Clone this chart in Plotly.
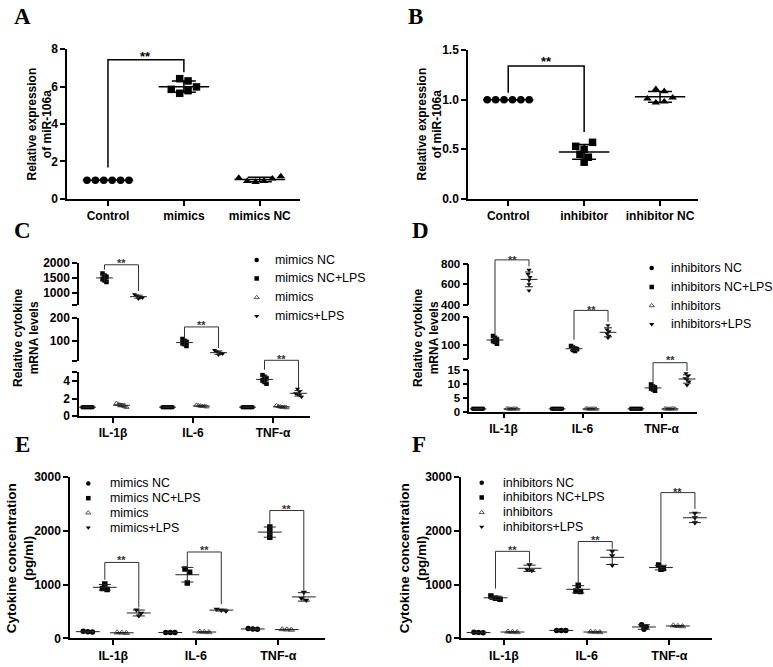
import numpy as np
import plotly.graph_objects as go

W, H = 773, 667
SANS = "Liberation Sans, Arial, sans-serif"
SERIF = "Liberation Serif, Times New Roman, serif"

# ---------------- data ----------------
A_groups = ["Control", "mimics", "mimics NC"]
A_control = [1.0, 1.0, 1.0, 1.0, 1.0, 1.0]
A_mimics = [6.42, 6.30, 5.85, 5.64, 5.78, 5.98]
A_mimics_nc = [1.12, 0.95, 0.90, 0.95, 1.08, 1.20]

B_groups = ["Control", "inhibitor", "inhibitor NC"]
B_control = [1.0, 1.0, 1.0, 1.0, 1.0, 1.0]
B_inhibitor = [0.53, 0.50, 0.57, 0.45, 0.42, 0.37]
B_inhibitor_nc = [1.105, 1.085, 1.01, 0.97, 0.98, 1.02]

cytokines = ["IL-1β", "IL-6", "TNF-α"]

C_series = ["mimics NC", "mimics NC+LPS", "mimics", "mimics+LPS"]
C_mimics_nc = [[1.0] * 6, [1.0] * 6, [1.0] * 6]
C_mimics_nc_lps = [[1640, 1580, 1520, 1470, 1410, 1360],
                   [108, 100, 95, 90, 85, 78],
                   [4.7, 4.5, 4.3, 4.1, 3.9, 3.7]]
C_mimics = [[1.45, 1.35, 1.25, 1.2, 1.1, 1.0],
            [1.25, 1.2, 1.15, 1.1, 1.1, 1.05],
            [1.2, 1.1, 1.05, 1.0, 1.0, 0.95]]
C_mimics_lps = [[960, 920, 890, 870, 850, 820],
                [60, 55, 50, 47, 44, 40],
                [3.1, 2.8, 2.6, 2.5, 2.4, 2.2]]

D_series = ["inhibitors NC", "inhibitors NC+LPS", "inhibitors", "inhibitors+LPS"]
D_inh_nc = [[1.0] * 6, [1.0] * 6, [1.0] * 6]
D_inh_nc_lps = [[132, 125, 118, 114, 110, 104],
                [96, 90, 86, 84, 81, 78],
                [9.8, 9.0, 8.6, 8.3, 8.0, 7.5]]
D_inh = [[1.1, 1.0, 0.9, 1.0, 1.05, 0.95],
         [1.1, 1.0, 0.95, 1.0, 1.05, 0.9],
         [1.05, 1.0, 0.9, 1.0, 1.1, 0.95]]
D_inh_lps = [[740, 700, 670, 640, 600, 540],
             [170, 155, 148, 140, 132, 125],
             [13.8, 12.8, 12.0, 11.5, 10.8, 9.5]]

E_series = ["mimics NC", "mimics NC+LPS", "mimics", "mimics+LPS"]
E_mimics_nc = [[135, 125, 120], [110, 110, 110], [185, 175, 170]]
E_mimics_nc_lps = [[1010, 930, 910], [1290, 1230, 1030], [2070, 1975, 1880]]
E_mimics = [[110, 105, 100], [125, 120, 115], [170, 165, 160]]
E_mimics_lps = [[530, 470, 420], [545, 525, 510], [860, 745, 710]]

F_series = ["inhibitors NC", "inhibitors NC+LPS", "inhibitors", "inhibitors+LPS"]
F_inh_nc = [[115, 110, 105], [150, 150, 150], [255, 215, 170]]
F_inh_nc_lps = [[790, 745, 730], [990, 880, 870], [1365, 1300, 1285]]
F_inh = [[125, 120, 115], [125, 120, 115], [240, 230, 225]]
F_inh_lps = [[1370, 1280, 1260], [1620, 1540, 1360], [2330, 2245, 2150]]

# ---------------- layout helpers ----------------
fig = go.Figure()
layout = dict(width=W, height=H, autosize=False, margin=dict(l=0, r=0, t=0, b=0),
              paper_bgcolor="white", plot_bgcolor="rgba(0,0,0,0)", showlegend=False)
shapes, annots = [], []
counter = {"x": 0, "y": 0}


def fx(px):
    return px / W


def fy(py):
    return 1 - py / H


def new_id(kind):
    counter[kind] += 1
    n = counter[kind]
    return "" if n == 1 else str(n)


def make_panel(xpx, xr, segs, xlabels, xfont, yfont):
    xi = new_id("x")
    yids = [new_id("y") for _ in segs]
    layout["xaxis" + xi] = dict(
        domain=[fx(xpx[0]), fx(xpx[1])], range=list(xr), anchor="y" + yids[-1],
        showline=True, linecolor="black", linewidth=1.5, ticks="outside", ticklen=5,
        tickwidth=1.5, tickcolor="black", tickvals=list(range(len(xlabels))), ticktext=xlabels,
        tickfont=dict(family=SANS, size=xfont, color="black", weight="bold"),
        showgrid=False, zeroline=False, fixedrange=True)
    for s, yi in zip(segs, yids):
        layout["yaxis" + yi] = dict(
            domain=[fy(s["bot"]), fy(s["top"])], range=list(s["range"]), anchor="x" + xi,
            showline=True, linecolor="black", linewidth=1.5, ticks="outside", ticklen=5,
            tickwidth=1.5, tickcolor="black", tickvals=s["tickvals"], ticktext=s["ticktext"],
            tickfont=dict(family=SANS, size=yfont, color="black", weight="bold"),
            showgrid=False, zeroline=False, fixedrange=True)
    return dict(x="x" + xi, ys=["y" + y for y in yids], xpx=xpx, xr=xr, segs=segs)


def xpix(P, pos):
    return P["xpx"][0] + (pos - P["xr"][0]) / (P["xr"][1] - P["xr"][0]) * (P["xpx"][1] - P["xpx"][0])


def ypix(P, seg, val):
    s = P["segs"][seg]
    lo, hi = s["range"]
    return s["bot"] - (val - lo) / (hi - lo) * (s["bot"] - s["top"])


def xppu(P):
    return (P["xpx"][1] - P["xpx"][0]) / (P["xr"][1] - P["xr"][0])


def yppu(P, seg):
    s = P["segs"][seg]
    return (s["bot"] - s["top"]) / (s["range"][1] - s["range"][0])


def seg_of(P, val):
    for i, s in enumerate(P["segs"]):
        if s["range"][0] <= val <= s["range"][1]:
            return i
    return len(P["segs"]) - 1


def swarm(vals, ppu_y, d, ppu_x, binpx):
    vals = np.asarray(vals, float)
    order = np.argsort(-vals, kind="stable")
    bins, cur, start = [], [], None
    for i in order:
        if cur and (start - vals[i]) * ppu_y <= binpx:
            cur.append(i)
        else:
            if cur:
                bins.append(cur)
            cur, start = [i], vals[i]
    bins.append(cur)
    off = np.zeros(len(vals))
    for b in bins:
        b = sorted(b)
        n = len(b)
        for k, i in enumerate(b):
            off[i] = (k - (n - 1) / 2) * d / ppu_x
    return off


def plot_group(P, pos, vals, st, msize, d, binpx, meanw, capw, lw, lcolor):
    vals = np.asarray(vals, float)
    m = vals.mean()
    sd = vals.std(ddof=1)
    seg = seg_of(P, m)
    off = swarm(vals, yppu(P, seg), d, xppu(P), binpx)
    fig.add_trace(go.Scatter(
        x=pos + off, y=vals, xaxis=P["x"], yaxis=P["ys"][seg], mode="markers",
        marker=dict(symbol=st["symbol"], size=msize, color=st["color"],
                    line=dict(width=st.get("lw", 0), color=st["color"])),
        hoverinfo="skip", showlegend=False))
    fig.add_trace(go.Scatter(
        x=[pos], y=[m], xaxis=P["x"], yaxis=P["ys"][seg], mode="markers",
        marker=dict(symbol="line-ew", size=meanw, color=lcolor, line=dict(width=lw, color=lcolor)),
        error_y=dict(type="data", array=[sd], visible=True, width=capw, thickness=lw, color=lcolor),
        hoverinfo="skip", showlegend=False))


def bracket(P, xl, xr_, yl, yt, yr, ys, lw, color, fsize):
    pl = ypix(P, *yl)
    pt = ypix(P, *yt)
    pr = ypix(P, *yr)
    xa, xb = xpix(P, xl), xpix(P, xr_)
    path = "M {:.5f},{:.5f} L {:.5f},{:.5f} L {:.5f},{:.5f} L {:.5f},{:.5f}".format(
        fx(xa), fy(pl), fx(xa), fy(pt), fx(xb), fy(pt), fx(xb), fy(pr))
    shapes.append(dict(type="path", path=path, xref="paper", yref="paper",
                       line=dict(color=color, width=lw)))
    annots.append(dict(x=fx((xa + xb) / 2), y=fy(ypix(P, *ys)), xref="paper", yref="paper",
                       text="**", showarrow=False, xanchor="center", yanchor="middle", yshift=-3,
                       font=dict(family=SANS, size=fsize, color=color, weight="bold")))


def text_at(px, py, text, size, family=SANS, weight="bold", angle=0, xanchor="center"):
    annots.append(dict(x=fx(px), y=fy(py), xref="paper", yref="paper", text=text, showarrow=False,
                       textangle=angle, xanchor=xanchor, yanchor="middle",
                       font=dict(family=family, size=size, color="black", weight=weight)))


# ---------------- panels ----------------
PA = make_panel((67, 300), (-0.54, 2.53),
                [dict(top=43, bot=196, range=(0, 8), tickvals=[0, 2, 4, 6, 8],
                      ticktext=["0", "2", "4", "6", "8"])], A_groups, 12, 12)
PB = make_panel((468, 698), (-0.53, 2.50),
                [dict(top=44, bot=196, range=(0, 1.5), tickvals=[0, 0.5, 1.0, 1.5],
                      ticktext=["0.0", "0.5", "1.0", "1.5"])], B_groups, 12, 12)
PC = make_panel((79, 310), (-0.425, 2.4625),
                [dict(top=261, bot=304.8, range=(600, 2000), tickvals=[600, 1000, 1500, 2000],
                      ticktext=["", "1000", "1500", "2000"]),
                 dict(top=317.3, bot=361.9, range=(12, 200), tickvals=[12, 100, 200],
                      ticktext=["", "100", "200"]),
                 dict(top=373.3, bot=417.7, range=(0, 5), tickvals=[0, 2, 4, 5],
                      ticktext=["0", "2", "4", ""])], cytokines, 12, 12)
PD = make_panel((469.3, 697), (-0.433, 2.449),
                [dict(top=262.3, bot=304.3, range=(400, 800), tickvals=[400, 600, 800],
                      ticktext=["400", "600", "800"]),
                 dict(top=316.7, bot=359.2, range=(50, 200), tickvals=[50, 100, 200],
                      ticktext=["", "100", "200"]),
                 dict(top=370.7, bot=413.3, range=(0, 15), tickvals=[0, 5, 10, 15],
                      ticktext=["0", "5", "10", "15"])], cytokines, 12, 11.5)
PE = make_panel((70, 325), (-0.525, 2.566),
                [dict(top=480, bot=645, range=(0, 3000), tickvals=[0, 1000, 2000, 3000],
                      ticktext=["0", "1000", "2000", "3000"])], cytokines, 12.5, 12)
PF = make_panel((461, 711.7), (-0.52, 2.511),
                [dict(top=480, bot=645, range=(0, 3000), tickvals=[0, 1000, 2000, 3000],
                      ticktext=["0", "1000", "2000", "3000"])], cytokines, 12.5, 12)

# overlay axis used only for legend glyphs (pixel units)
ox = new_id("x")
oy = new_id("y")
layout["xaxis" + ox] = dict(domain=[0, 1], range=[0, W], visible=False, anchor="y" + oy, fixedrange=True)
layout["yaxis" + oy] = dict(domain=[0, 1], range=[H, 0], visible=False, anchor="x" + ox, fixedrange=True)

# ---------------- A & B ----------------
ab_styles = [dict(symbol="circle", color="black"), dict(symbol="square", color="black"),
             dict(symbol="triangle-up", color="black")]
for P, groups in ((PA, [A_control, A_mimics, A_mimics_nc]),
                  (PB, [B_control, B_inhibitor, B_inhibitor_nc])):
    for g, vals in enumerate(groups):
        plot_group(P, g, vals, ab_styles[g], 7.5, 8.4, 7.1, 36, 12, 1.5, "black")

bracket(PA, 0, 1, (0, 1.68), (0, 7.43), (0, 6.77), (0, 7.75), 1.5, "black", 13)
bracket(PB, 0, 1, (0, 1.07), (0, 1.34), (0, 0.675), (0, 1.42), 1.5, "black", 13)

# ---------------- C-F ----------------
cf_styles = [dict(symbol="circle", color="black"), dict(symbol="square", color="black"),
             dict(symbol="triangle-up-open", color="#555555", lw=1),
             dict(symbol="triangle-down", color="black")]


def grouped(P, series_data, spacing_px, msize, d, binpx, meanw, capw):
    unit = 17.0 / spacing_px
    for i, sdata in enumerate(series_data):
        for g, vals in enumerate(sdata):
            plot_group(P, g + (i - 1.5) * unit, vals, cf_styles[i], msize, d, binpx,
                       meanw, capw, 1, "#222222")
    return unit


uC = grouped(PC, [C_mimics_nc, C_mimics_nc_lps, C_mimics, C_mimics_lps], 80, 4.5, 2.0, 4.0, 12, 4)
uD = grouped(PD, [D_inh_nc, D_inh_nc_lps, D_inh, D_inh_lps], 79, 4.5, 2.0, 4.0, 12, 4)
uE = grouped(PE, [E_mimics_nc, E_mimics_nc_lps, E_mimics, E_mimics_lps], 82.5, 5.5, 4.6, 4.0, 17, 6)
uF = grouped(PF, [F_inh_nc, F_inh_nc_lps, F_inh, F_inh_lps], 82.7, 5.5, 4.6, 4.0, 17, 6)

# significance brackets: (group, y-left, y-top, y-right, y-star) as (segment, value)
C_br = [(0, (0, 1767), (0, 1926), (0, 1073), (0, 2086)),
        (1, (1, 114), (1, 160), (1, 69), (1, 181)),
        (2, (2, 5.31), (2, 6.4), (2, 3.2), (2, 6.9))]
D_br = [(0, (1, 135), (0, 838), (0, 774), (0, 870)),
        (1, (1, 118), (1, 224), (1, 183), (1, 238)),
        (2, (2, 9.96), (2, 17.6), (2, 14.6), (2, 19.6))]
E_br = [(0, (0, 1091), (0, 1412), (0, 576), (0, 1510)),
        (1, (0, 1333), (0, 1606), (0, 636), (0, 1690)),
        (2, (0, 2121), (0, 2376), (0, 890), (0, 2455))]
F_br = [(0, (0, 927), (0, 1618), (0, 1412), (0, 1697)),
        (1, (0, 1030), (0, 1800), (0, 1667), (0, 1879)),
        (2, (0, 1424), (0, 2709), (0, 2406), (0, 2770))]
for P, brs, u in ((PC, C_br, uC), (PD, D_br, uD), (PE, E_br, uE), (PF, F_br, uF)):
    for g, yl, yt, yr, ys in brs:
        bracket(P, g - 0.5 * u, g + 1.5 * u, yl, yt, yr, ys, 1, "#333333", 11)

# ---------------- legends ----------------
legends = [(C_series, 256.7, 273.3, [258.3, 277.3, 296.7, 315.7]),
           (D_series, 651.7, 669.0, [266.7, 286.0, 305.0, 324.0]),
           (E_series, 88.3, 107.7, [486.7, 501.7, 516.7, 531.7]),
           (F_series, 481.7, 500.7, [486.0, 501.0, 516.3, 531.0])]
for names, mx, tx, ys in legends:
    for i, (nm, yy) in enumerate(zip(names, ys)):
        st = cf_styles[i]
        fig.add_trace(go.Scatter(
            x=[mx], y=[yy], xaxis="x" + ox, yaxis="y" + oy, mode="markers",
            marker=dict(symbol=st["symbol"], size=4.5, color=st["color"],
                        line=dict(width=st.get("lw", 0), color=st["color"])),
            hoverinfo="skip", showlegend=False))
        text_at(tx, yy, nm, 12.4, weight="normal", xanchor="left")

# ---------------- axis titles & panel letters ----------------
text_at(39.5, 119.5, "Relative expression<br>of miR-106a", 12, angle=-90)
text_at(430, 120, "Relative expression<br>of miR-106a", 12, angle=-90)
text_at(26, 338, "Relative cytokine<br>mRNA levels", 12, angle=-90)
text_at(426, 338, "Relative cytokine<br>mRNA levels", 12, angle=-90)
text_at(20, 563, "Cytokine concentration<br>(pg/ml)", 13.5, angle=-90)
text_at(413, 563, "Cytokine concentration<br>(pg/ml)", 13.5, angle=-90)

for letter, px, py in (("A", 22.5, 10), ("B", 415, 10), ("C", 22, 228),
                       ("D", 420, 228), ("E", 22, 447), ("F", 419, 447)):
    text_at(px, py, letter, 23, family=SERIF)

layout["shapes"] = shapes
layout["annotations"] = annots
fig.update_layout(**layout)
fig.write_html("out.html", config={"displayModeBar": False},
               post_script="document.body.style.margin='0px';")
